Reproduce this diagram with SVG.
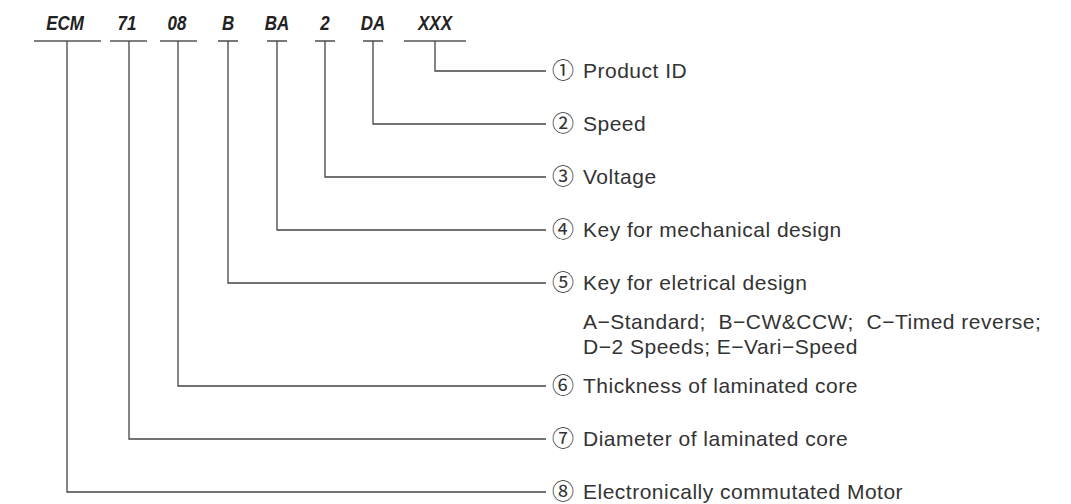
<svg xmlns="http://www.w3.org/2000/svg" width="1071" height="504" viewBox="0 0 1071 504">
<style>
.code{font-family:"Liberation Sans",Arial,sans-serif;font-weight:bold;font-style:italic;font-size:19.5px;fill:#222;text-anchor:middle}
.lbl{font-family:"Liberation Sans",Arial,sans-serif;font-size:21px;letter-spacing:0.5px;fill:#333;white-space:pre}
.num{font-family:"Noto Sans CJK JP","DejaVu Sans",sans-serif;font-size:22px;fill:#333}
.ul{stroke:#555;stroke-width:1.6;fill:none}
.cn{stroke:#444;stroke-width:1.3;fill:none}
</style>
<rect width="1071" height="504" fill="#fff"/>
<g id="codes">
<g id="code-ECM"><text class="code" transform="translate(65,30) scale(0.87,1)">ECM</text><line class="ul" x1="34" y1="41" x2="101" y2="41"/></g>
<g id="code-71"><text class="code" transform="translate(127,30) scale(0.87,1)">71</text><line class="ul" x1="110" y1="41" x2="147" y2="41"/></g>
<g id="code-08"><text class="code" transform="translate(177,30) scale(0.87,1)">08</text><line class="ul" x1="160" y1="41" x2="197" y2="41"/></g>
<g id="code-B"><text class="code" transform="translate(228,30) scale(0.87,1)">B</text><line class="ul" x1="218" y1="41" x2="238" y2="41"/></g>
<g id="code-BA"><text class="code" transform="translate(277,30) scale(0.87,1)">BA</text><line class="ul" x1="267" y1="41" x2="287" y2="41"/></g>
<g id="code-2"><text class="code" transform="translate(325,30) scale(0.87,1)">2</text><line class="ul" x1="315" y1="41" x2="335" y2="41"/></g>
<g id="code-DA"><text class="code" transform="translate(373,30) scale(0.87,1)">DA</text><line class="ul" x1="363" y1="41" x2="383" y2="41"/></g>
<g id="code-XXX"><text class="code" transform="translate(435,30) scale(0.87,1)">XXX</text><line class="ul" x1="404" y1="41" x2="466" y2="41"/></g>
</g>
<g id="connectors">
<polyline class="cn" points="435,41 435,71 546,71"/>
<polyline class="cn" points="373,41 373,124 546,124"/>
<polyline class="cn" points="325,41 325,177 546,177"/>
<polyline class="cn" points="277,41 277,230 546,230"/>
<polyline class="cn" points="228,41 228,283 546,283"/>
<polyline class="cn" points="178,41 178,386 546,386"/>
<polyline class="cn" points="129,41 129,439 546,439"/>
<polyline class="cn" points="67,41 67,492 546,492"/>
</g>
<g id="label-1"><text class="num" x="552" y="78">①</text><text class="lbl" x="583" y="78">Product ID</text></g>
<g id="label-2"><text class="num" x="552" y="131">②</text><text class="lbl" x="583" y="131">Speed</text></g>
<g id="label-3"><text class="num" x="552" y="184">③</text><text class="lbl" x="583" y="184">Voltage</text></g>
<g id="label-4"><text class="num" x="552" y="237">④</text><text class="lbl" x="583" y="237">Key for mechanical design</text></g>
<g id="label-5"><text class="num" x="552" y="290">⑤</text><text class="lbl" x="583" y="290">Key for eletrical design</text>
<text class="lbl" x="583" y="329" xml:space="preserve">A−Standard;  B−CW&amp;CCW;  C−Timed reverse;</text>
<text class="lbl" x="583" y="354">D−2 Speeds; E−Vari−Speed</text></g>
<g id="label-6"><text class="num" x="552" y="393">⑥</text><text class="lbl" x="583" y="393">Thickness of laminated core</text></g>
<g id="label-7"><text class="num" x="552" y="446">⑦</text><text class="lbl" x="583" y="446">Diameter of laminated core</text></g>
<g id="label-8"><text class="num" x="552" y="498.5">⑧</text><text class="lbl" x="583" y="498.5">Electronically commutated Motor</text></g>
</svg>
